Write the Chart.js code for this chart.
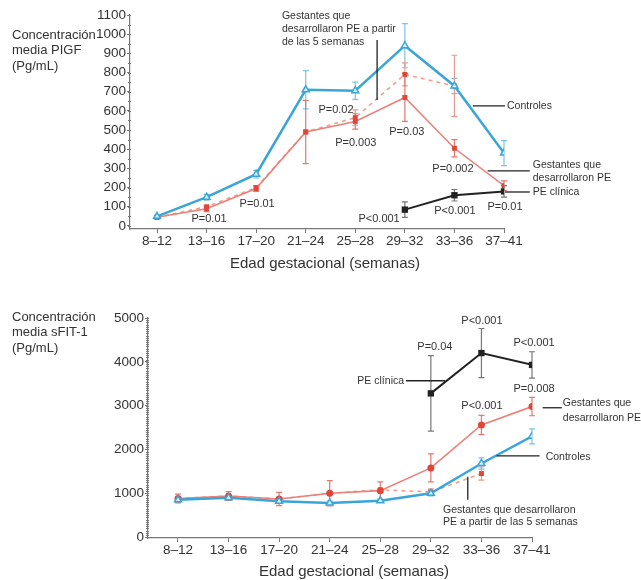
<!DOCTYPE html>
<html>
<head>
<meta charset="utf-8">
<script src="https://cdn.jsdelivr.net/npm/chart.js@4.4.1/dist/chart.umd.min.js"></script>
<style>
    body { margin: 0; background: #fff; }
    .panel { position: absolute; left: 0; width: 641px; height: 290px; }
</style>
</head>
<body>
<div class="panel" style="top:0"><canvas id="plgfChart"></canvas></div>
<div class="panel" style="top:290px"><canvas id="sfltChart"></canvas></div>
<script>
const categories = ['8–12', '13–16', '17–20', '21–24', '25–28', '29–32', '33–36', '37–41'];

// PlGF (pg/mL)
const plgfTicks = [0, 100, 200, 300, 400, 500, 600, 700, 800, 900, 1000, 1100];
const plgfControles = [50, 150, 270, 710, 705, 940, 730, 380];
const plgfControlesErr = [5, 15, 20, 100, 45, 115, 40, 65];
const plgfPE = [45, 90, 195, 490, 545, 670, 405, 210];
const plgfPEErr = [5, 15, 15, 165, 40, 125, 45, 25];
const plgfPE5 = [45, 100, 200, 490, 565, 790, 730, null];
const plgfPE5Err = [0, 0, 0, 0, 40, 60, 160, null];
const plgfClinica = [null, null, null, null, null, 85, 160, 180];
const plgfClinicaErr = [null, null, null, null, null, 40, 30, 30];

// sFlt-1 (pg/mL)
const sfltTicks = [0, 1000, 2000, 3000, 4000, 5000];
const sfltControles = [850, 900, 820, 780, 830, 1000, 1680, 2300];
const sfltControlesErr = [60, 60, 40, 40, 40, 60, 130, 170];
const sfltPE = [880, 940, 870, 1000, 1060, 1580, 2560, 2980];
const sfltPEErr = [100, 100, 150, 290, 200, 320, 220, 210];
const sfltPE5 = [880, 940, 870, 1000, 1080, 1030, 1450, null];
const sfltPE5Err = [0, 0, 0, 0, 0, 70, 150, null];
const sfltClinica = [null, null, null, null, null, 3280, 4200, 3930];
const sfltClinicaErr = [null, null, null, null, null, 860, 560, 300];

const FONT = 'Liberation Sans, Arial, sans-serif';
const TXT = '#333';
const BLUE = '#3aa5d8';
const RED = '#e0463a';
const SALMON = '#ea8176';
const DASH = '#eea08f';
const BLACK = '#222';

Chart.defaults.font.family = FONT;
Chart.defaults.color = TXT;

function pts(values) {
    return values.map((v, i) => ({x: i, y: v}));
}

// barras de error verticales con remate
const errorBars = {
    id: 'errorBars',
    beforeDatasetsDraw(chart) {
        const ctx = chart.ctx;
        const yScale = chart.scales.y;
        chart.data.datasets.forEach((ds, i) => {
            if (!ds.err) return;
            const meta = chart.getDatasetMeta(i);
            ctx.save();
            ctx.strokeStyle = ds.errColor;
            ctx.lineWidth = 1.2;
            meta.data.forEach((pt, j) => {
                const v = ds.data[j].y;
                const e = ds.err[j];
                if (v == null || !e) return;
                const top = yScale.getPixelForValue(v + e);
                const bot = yScale.getPixelForValue(v - e);
                ctx.beginPath();
                ctx.moveTo(pt.x, top); ctx.lineTo(pt.x, bot);
                ctx.moveTo(pt.x - 3, top); ctx.lineTo(pt.x + 3, top);
                ctx.moveTo(pt.x - 3, bot); ctx.lineTo(pt.x + 3, bot);
                ctx.stroke();
            });
            ctx.restore();
        });
    }
};

// textos, flechas, títulos y marcas menores del eje
const notes = {
    id: 'notes',
    afterDraw(chart, args, opts) {
        const {ctx, scales: {x, y}} = chart;
        ctx.save();
        ctx.strokeStyle = '#777';
        ctx.lineWidth = 1;
        for (let v = y.min; v <= y.max; v += opts.minorStep) {
            const py = Math.round(y.getPixelForValue(Math.ceil(v / opts.minorStep) * opts.minorStep)) + 0.5;
            ctx.beginPath();
            ctx.moveTo(x.left - 2, py);
            ctx.lineTo(x.left + 1, py);
            ctx.stroke();
        }
        ctx.strokeStyle = '#222';
        ctx.lineWidth = 1.3;
        opts.lines.forEach(l => {
            ctx.beginPath();
            ctx.moveTo(x.getPixelForValue(l.x1), y.getPixelForValue(l.y1));
            ctx.lineTo(x.getPixelForValue(l.x2), y.getPixelForValue(l.y2));
            ctx.stroke();
        });
        ctx.fillStyle = TXT;
        ctx.textBaseline = 'middle';
        opts.labels.forEach(t => {
            ctx.font = (t.size || 10.5) + 'px ' + FONT;
            ctx.textAlign = t.align || 'center';
            const px = x.getPixelForValue(t.x);
            const py = y.getPixelForValue(t.y);
            [].concat(t.text).forEach((line, k) => ctx.fillText(line, px, py + k * (t.lh || 13)));
        });
        opts.titles.forEach(t => {
            ctx.font = t.size + 'px ' + FONT;
            ctx.textAlign = t.align;
            [].concat(t.text).forEach((line, k) => ctx.fillText(line, t.px, t.py + k * t.lh));
        });
        ctx.restore();
    }
};

function buildScales(xMin, yMin, yTicks, yWidth, xHeight) {
    return {
        x: {
            type: 'linear',
            min: xMin,
            max: categories.length - 1,
            afterBuildTicks: s => { s.ticks = categories.map((c, i) => ({value: i})); },
            afterFit: s => { s.height = xHeight; },
            ticks: {
                callback: v => categories[v],
                font: {size: 13.5},
                color: TXT,
                padding: 0,
                maxRotation: 0,
                autoSkip: false
            },
            grid: {drawOnChartArea: false, drawTicks: true, tickLength: 4, color: '#777'},
            border: {display: true, color: '#777', width: 1.2}
        },
        y: {
            min: yMin,
            max: yTicks[yTicks.length - 1],
            afterBuildTicks: s => { s.ticks = yTicks.map(v => ({value: v})); },
            afterFit: s => { s.width = yWidth; },
            ticks: {callback: v => String(v), font: {size: 13.5}, color: TXT, padding: 1},
            grid: {drawOnChartArea: false, drawTicks: true, tickLength: 3, color: '#777'},
            border: {display: true, color: '#777', width: 1.2}
        }
    };
}

function buildDatasets(controles, controlesErr, pe, peErr, pe5, pe5Err, clinica, clinicaErr, peStyle) {
    return [
        {
            data: pts(controles), err: controlesErr, errColor: '#7cc3e6', order: 1,
            borderColor: BLUE, borderWidth: 2.5, pointStyle: 'triangle', pointRadius: 4,
            pointBackgroundColor: '#d8eef9', pointBorderColor: BLUE, pointBorderWidth: 1.5
        },
        {
            data: pts(pe5), err: pe5Err, errColor: '#e89a8f', order: 3,
            borderColor: DASH, borderWidth: 1.6, borderDash: [4, 4], pointStyle: 'rect', pointRadius: 3.5,
            pointBackgroundColor: RED, pointBorderColor: RED, pointBorderWidth: 0
        },
        {
            data: pts(pe), err: peErr, errColor: '#e3786c', order: 2,
            borderColor: SALMON, borderWidth: 1.6, pointStyle: peStyle, pointRadius: 3.5,
            pointBackgroundColor: RED, pointBorderColor: RED, pointBorderWidth: 0
        },
        {
            data: pts(clinica), err: clinicaErr, errColor: '#777', order: 0,
            borderColor: BLACK, borderWidth: 2, pointStyle: 'rect', pointRadius: 4.5,
            pointBackgroundColor: BLACK, pointBorderColor: BLACK, pointBorderWidth: 0
        }
    ];
}

const baseOptions = {
    responsive: true,
    maintainAspectRatio: false,
    animation: false,
    events: []
};

new Chart(document.getElementById('plgfChart'), {
    type: 'line',
    data: {
        datasets: buildDatasets(plgfControles, plgfControlesErr, plgfPE, plgfPEErr,
            plgfPE5, plgfPE5Err, plgfClinica, plgfClinicaErr, 'rect')
    },
    options: {
        ...baseOptions,
        layout: {padding: {left: 0, right: 137, top: 15, bottom: 0}},
        scales: buildScales(-0.545, -16, plgfTicks, 130, 61),
        plugins: {
            legend: {display: false},
            tooltip: {enabled: false},
            notes: {
                minorStep: 50,
                lines: [
                    {x1: 4.44, y1: 970, x2: 4.44, y2: 657},
                    {x1: 6.37, y1: 626, x2: 7.02, y2: 626},
                    {x1: 6.67, y1: 287, x2: 7.52, y2: 287},
                    {x1: 7.02, y1: 177, x2: 7.52, y2: 177}
                ],
                labels: [
                    {x: 2.52, y: 1095, align: 'left', text: ['Gestantes que', 'desarrollaron PE a partir', 'de las 5 semanas']},
                    {x: 7.06, y: 626, align: 'left', text: 'Controles'},
                    {x: 7.58, y: 318, align: 'left', text: ['Gestantes que', 'desarrollaron PE']},
                    {x: 7.58, y: 177, align: 'left', text: 'PE clínica'},
                    {x: 1.05, y: 36, text: 'P=0.01', size: 11},
                    {x: 2.02, y: 115, text: 'P=0.01', size: 11},
                    {x: 3.61, y: 605, text: 'P=0.02', size: 11},
                    {x: 4.01, y: 433, text: 'P=0.003', size: 11},
                    {x: 5.04, y: 490, text: 'P=0.03', size: 11},
                    {x: 5.97, y: 297, text: 'P=0.002', size: 11},
                    {x: 4.48, y: 36, text: 'P<0.001', size: 11},
                    {x: 6.01, y: 78, text: 'P<0.001', size: 11},
                    {x: 7.02, y: 99, text: 'P=0.01', size: 11}
                ],
                titles: [
                    {px: 12, py: 35, lh: 15.7, size: 13, align: 'left', text: ['Concentración', 'media PIGF', '(Pg/mL)']},
                    {px: 325, py: 264, lh: 0, size: 15, align: 'center', text: 'Edad gestacional (semanas)'}
                ]
            }
        }
    },
    plugins: [errorBars, notes]
});

new Chart(document.getElementById('sfltChart'), {
    type: 'line',
    data: {
        datasets: buildDatasets(sfltControles, sfltControlesErr, sfltPE, sfltPEErr,
            sfltPE5, sfltPE5Err, sfltClinica, sfltClinicaErr, 'circle')
    },
    options: {
        ...baseOptions,
        layout: {padding: {left: 0, right: 109, top: 28, bottom: 0}},
        scales: buildScales(-0.593, -20, sfltTicks, 148, 42),
        plugins: {
            legend: {display: false},
            tooltip: {enabled: false},
            notes: {
                minorStep: 50,
                lines: [
                    {x1: 4.51, y1: 3568, x2: 5.28, y2: 3568},
                    {x1: 7.21, y1: 2952, x2: 7.59, y2: 2952},
                    {x1: 6.30, y1: 1856, x2: 7.15, y2: 1856},
                    {x1: 5.73, y1: 1377, x2: 5.73, y2: 852}
                ],
                labels: [
                    {x: 4.47, y: 3568, align: 'right', text: 'PE clínica'},
                    {x: 7.61, y: 3066, align: 'left', text: ['Gestantes que', 'desarrollaron PE'], lh: 15},
                    {x: 7.27, y: 1833, align: 'left', text: 'Controles'},
                    {x: 5.24, y: 623, align: 'left', text: ['Gestantes que desarrollaron', 'PE a partir de las 5 semanas'], lh: 12},
                    {x: 5.08, y: 4345, text: 'P=0.04', size: 11},
                    {x: 6.01, y: 4940, text: 'P<0.001', size: 11},
                    {x: 7.04, y: 4440, text: 'P<0.001', size: 11},
                    {x: 7.04, y: 3390, text: 'P=0.008', size: 11},
                    {x: 6.01, y: 3000, text: 'P<0.001', size: 11}
                ],
                titles: [
                    {px: 12, py: 27, lh: 15.5, size: 13, align: 'left', text: ['Concentración', 'media sFIT-1', '(Pg/mL)']},
                    {px: 354, py: 282, lh: 0, size: 15, align: 'center', text: 'Edad gestacional (semanas)'}
                ]
            }
        }
    },
    plugins: [errorBars, notes]
});
</script>
</body>
</html>
